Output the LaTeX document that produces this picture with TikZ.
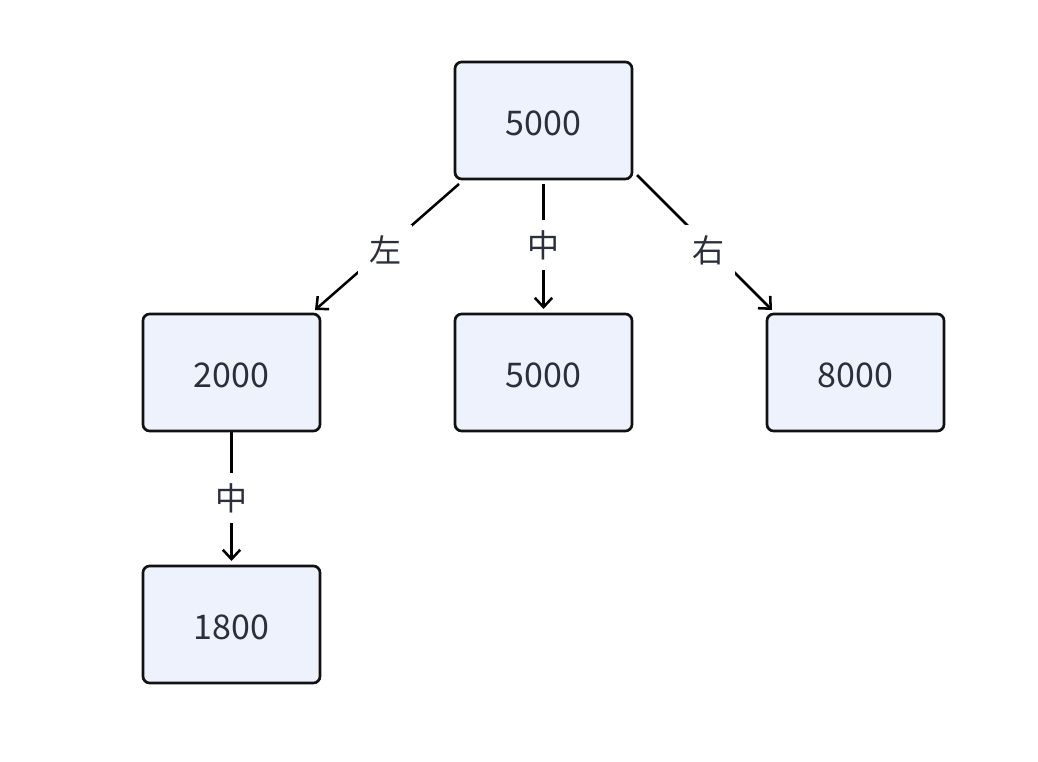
\documentclass[tikz,border=0pt]{standalone}
\usepackage{fontspec}
\setmainfont{Noto Sans CJK SC}
\usetikzlibrary{arrows.meta}
\definecolor{boxfill}{HTML}{EEF2FC}
\definecolor{boxline}{HTML}{111111}
\definecolor{txt}{HTML}{2B2F3A}
\begin{document}
\begin{tikzpicture}[x=0.75pt,y=-0.75pt,
  numbox/.style={draw=boxline,fill=boxfill,line width=2pt,rounded corners=5pt,
    minimum width=132.75pt,minimum height=87.75pt,inner sep=0pt,
    text height=23pt,text depth=0pt,
    text=txt,font=\fontsize{25.5}{30}\selectfont},
  edge/.style={draw=black,line width=1.9pt,-{Straight Barb[length=7pt,width=13pt,line width=1.9pt]}},
  elabel/.style={fill=white,inner sep=8pt,text=txt,font=\fontsize{24}{28}\selectfont}]
\useasboundingbox (0,0) rectangle (1038,762);
\node[numbox] (top) at (543.5,120.5) {5000};
\node[numbox] (l) at (231.5,372.5) {2000};
\node[numbox] (m) at (543.5,372.5) {5000};
\node[numbox] (r) at (855.5,372.5) {8000};
\node[numbox] (b) at (231.5,624.5) {1800};
\coordinate (s1) at (459,184);
\coordinate (e1) at (315,310);
\coordinate (s2) at (543.5,184);
\coordinate (e2) at (543.5,309);
\coordinate (s3) at (637,175);
\coordinate (e3) at (772,310);
\coordinate (s4) at (231.5,432);
\coordinate (e4) at (231.5,561);
\draw[edge] (s1) -- (e1);
\draw[edge] (s2) -- (e2);
\draw[edge] (s3) -- (e3);
\draw[edge] (s4) -- (e4);
\node[elabel] (lz) at (385,250) {左};
\node[elabel] (lm) at (543.5,245) {中};
\node[elabel] (lr) at (708,250) {右};
\node[elabel] (lb) at (231.5,498) {中};
\end{tikzpicture}
\end{document}
